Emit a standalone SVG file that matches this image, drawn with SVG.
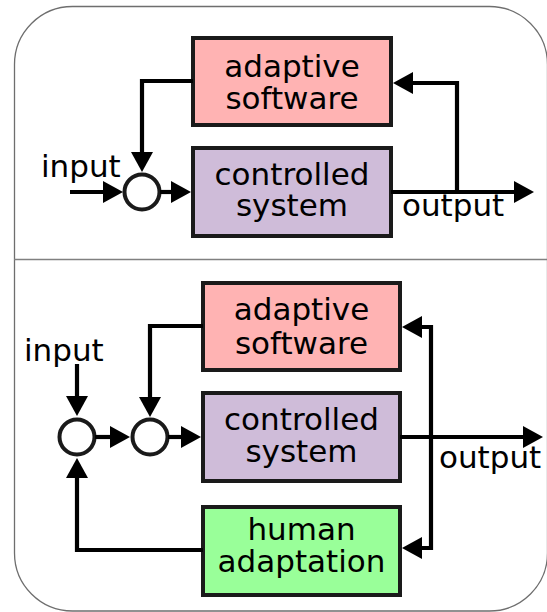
<svg xmlns="http://www.w3.org/2000/svg" width="547" height="612" viewBox="0 0 547 612">
<style>
.frame{fill:#fff;stroke:#6e6e6e;stroke-width:1.3}
.box{stroke:#1a1a1a;stroke-width:4}
.sw{fill:#ffb3b3}
.cs{fill:#cfbcd9}
.ha{fill:#99ff99}
.sum{fill:#fff;stroke:#1a1a1a;stroke-width:4}
.lbl{font-family:"DejaVu Sans","Liberation Sans",sans-serif;font-size:31px;fill:#000}
.mid{text-anchor:middle}
.conn path{fill:none;stroke:#000;stroke-width:4.2;stroke-linejoin:miter;marker-end:url(#ah)}
</style>
<defs>
<marker id="ah" viewBox="0 0 20 22" refX="8" refY="11" markerWidth="20" markerHeight="22" markerUnits="userSpaceOnUse" orient="auto">
<path d="M0,0 L20,11 L0,22 z" fill="#000"/>
</marker>
</defs>
<rect class="frame" x="14.5" y="6.5" width="533" height="604.5" rx="58" ry="58"/>
<line x1="14" y1="259.5" x2="547" y2="259.5" stroke="#808080" stroke-width="1.3"/>

<g id="top-adaptive-software">
<rect class="box sw" x="193" y="38" width="198" height="87"/>
<text class="lbl mid" x="292" y="77">adaptive</text>
<text class="lbl mid" x="292" y="109">software</text>
</g>
<g id="top-controlled-system">
<rect class="box cs" x="193" y="148" width="198" height="88"/>
<text class="lbl mid" x="292" y="185">controlled</text>
<text class="lbl mid" x="292" y="216">system</text>
</g>
<g id="top-sum">
<circle class="sum" cx="142" cy="192" r="17.5"/>
</g>
<g id="top-input"><text class="lbl" x="41" y="177">input</text></g>
<g id="top-output"><text class="lbl" x="402" y="216">output</text></g>

<g id="bottom-adaptive-software">
<rect class="box sw" x="203" y="283" width="197" height="87"/>
<text class="lbl mid" x="301.5" y="320">adaptive</text>
<text class="lbl mid" x="301.5" y="354">software</text>
</g>
<g id="bottom-controlled-system">
<rect class="box cs" x="203" y="393" width="197" height="88"/>
<text class="lbl mid" x="301.5" y="430">controlled</text>
<text class="lbl mid" x="301.5" y="462">system</text>
</g>
<g id="bottom-human-adaptation">
<rect class="box ha" x="203" y="507" width="197" height="88"/>
<text class="lbl mid" x="301.5" y="540">human</text>
<text class="lbl mid" x="301.5" y="572">adaptation</text>
</g>
<g id="bottom-sum1"><circle class="sum" cx="77" cy="437" r="17.5"/></g>
<g id="bottom-sum2"><circle class="sum" cx="150" cy="437" r="17.5"/></g>
<g id="bottom-input"><text class="lbl" x="24" y="361">input</text></g>
<g id="bottom-output"><text class="lbl" x="439" y="468">output</text></g>

<g id="connectors" class="conn">
<path d="M70,192 H111"/>
<path d="M160,192 H179"/>
<path d="M193,81 H142 V160"/>
<path d="M391,192 H522"/>
<path d="M457,192 V83 H405"/>
<path d="M77,364 V404"/>
<path d="M95,437 H118"/>
<path d="M168,437 H189"/>
<path d="M203,326 H150 V405"/>
<path d="M203,550 H77 V470"/>
<path d="M400,437 H531"/>
<path d="M431,437 V327 H414"/>
<path d="M431,437 V548 H414"/>
</g>
</svg>
